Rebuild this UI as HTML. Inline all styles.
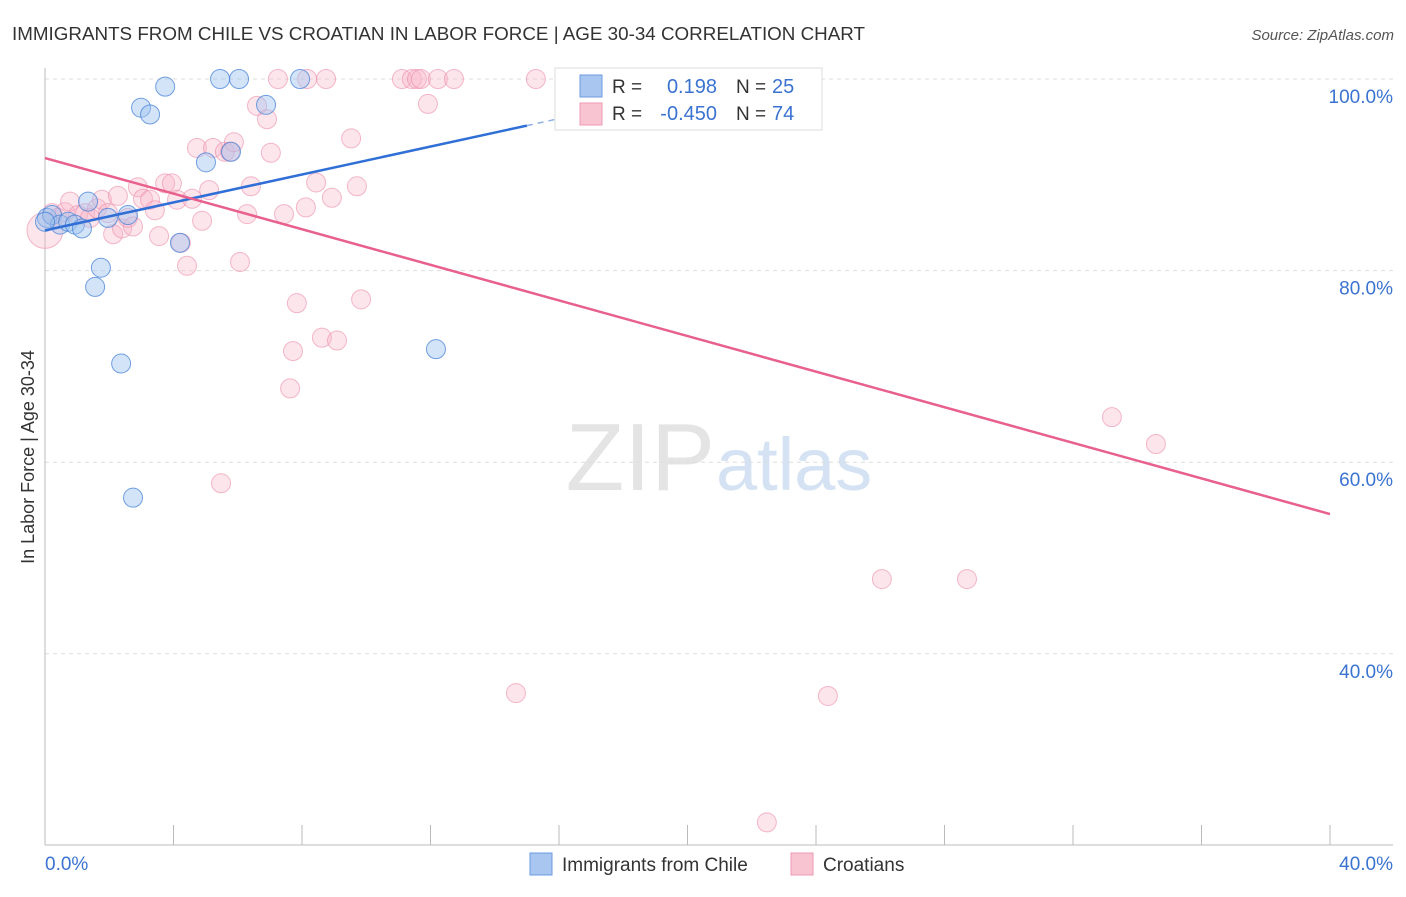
<!DOCTYPE html>
<html><head><meta charset="utf-8"><style>
body{margin:0;background:#fff;font-family:"Liberation Sans",sans-serif}
svg text{font-family:"Liberation Sans",sans-serif}
</style></head><body>
<svg id="chart" width="1406" height="892">
<text x="12" y="40" font-size="18" fill="#333" textLength="853" lengthAdjust="spacingAndGlyphs">IMMIGRANTS FROM CHILE VS CROATIAN IN LABOR FORCE | AGE 30-34 CORRELATION CHART</text>
<text x="1394" y="40" font-size="15" fill="#555" font-style="italic" text-anchor="end">Source: ZipAtlas.com</text>
<text x="715" y="490" font-size="96" fill="#e4e4e4" text-anchor="end" font-family="Liberation Serif">ZIP</text>
<text x="716" y="490" font-size="74" fill="#d4e2f4">atlas</text>
<g id="grid"></g><g id="axes"></g><g id="pts"></g><g id="lines"></g>
<text transform="translate(34,457) rotate(-90)" font-size="18" fill="#333" text-anchor="middle">In Labor Force | Age 30-34</text>
<g>
<rect x="555" y="68" width="267" height="62" fill="#fff" stroke="#ddd"/>
<rect x="580" y="75" width="22" height="22" fill="#a9c6f0" stroke="#6c9ae0"/>
<rect x="580" y="103" width="22" height="22" fill="#f9c4d2" stroke="#ef9ab5"/>
<text x="612" y="93" font-size="19" fill="#333">R =</text><text x="717" y="93" font-size="20" fill="#3b73d1" text-anchor="end">0.198</text>
<text x="736" y="93" font-size="19" fill="#333">N =</text><text x="772" y="93" font-size="20" fill="#3b73d1">25</text>
<text x="612" y="120" font-size="19" fill="#333">R =</text><text x="717" y="120" font-size="20" fill="#3b73d1" text-anchor="end">-0.450</text>
<text x="736" y="120" font-size="19" fill="#333">N =</text><text x="772" y="120" font-size="20" fill="#3b73d1">74</text>
</g>
<g>
<rect x="530" y="853" width="22" height="22" fill="#a9c6f0" stroke="#6c9ae0"/>
<text x="562" y="871" font-size="19" fill="#333">Immigrants from Chile</text>
<rect x="791" y="853" width="22" height="22" fill="#f9c4d2" stroke="#ef9ab5"/>
<text x="823" y="871" font-size="19" fill="#333">Croatians</text>
</g>
</svg>
<script>
const yTicks=[100,80,60,40];
const yTickLabels=["100.0%","80.0%","60.0%","40.0%"];
const xTickLabels=["0.0%","40.0%"];
const chileX=[0.06,0.22,0.47,0.72,0.93,1.15,1.34,1.96,2.58,1.74,1.56,2.37,2.74,2.99,3.27,3.74,4.20,5.01,5.45,6.04,5.79,6.88,7.94,12.17,0];
const chileY=[85.5,85.8,84.8,85.1,84.8,84.4,87.2,85.5,85.8,80.3,78.3,70.3,56.3,97.0,96.3,99.2,82.9,91.3,100,100,92.4,97.3,100,71.8,85.1];
const croX=[0.22,0.40,0.62,0.78,1.03,1.25,1.40,1.62,1.77,1.96,2.12,2.27,2.40,2.58,2.74,2.89,3.05,3.27,3.42,3.55,3.74,3.95,4.23,4.11,4.42,4.58,4.73,4.89,5.11,5.23,5.60,5.76,5.88,6.07,6.29,6.41,6.60,6.91,7.03,7.25,7.44,7.84,7.72,7.63,8.12,8.16,8.44,8.62,8.75,8.93,9.09,9.53,9.71,9.84,5.48,11.11,11.42,11.58,11.70,11.92,12.23,12.73,15.28,23.28,33.21,34.58,26.05,28.70,14.66,24.37,22.47,0];
const croY=[86.0,85.5,86.1,87.2,85.8,86.0,85.5,86.5,87.4,86.0,83.8,87.8,84.4,85.5,84.6,88.7,87.5,87.4,86.3,83.6,89.1,89.1,82.9,87.4,80.5,87.5,92.8,85.2,88.4,92.8,92.4,92.4,93.4,80.9,85.9,88.8,97.2,95.8,92.3,100,85.9,76.6,71.6,67.7,86.6,100,89.2,73.0,100,87.6,72.7,93.8,88.8,77.0,57.8,100,100,100,100,97.4,100,100,100,100,64.7,61.9,47.8,47.8,35.9,35.6,22.4,84.2];
const chileTrend=[84.2,0.729];
const croTrend=[91.75,-0.929];
const NS='http://www.w3.org/2000/svg';
const X=v=>45+v*32.125, Y=v=>79+(100-v)*9.58;
function mk(parent,tag,attrs){const e=document.createElementNS(NS,tag);for(const k in attrs)e.setAttribute(k,attrs[k]);document.getElementById(parent).appendChild(e);return e;}
yTicks.forEach((t,i)=>{
 let l=mk('grid','line',{x1:45,x2:1393,y1:Y(t),y2:Y(t),stroke:'#ddd','stroke-dasharray':'4,4'});
 
 
 let tx=mk('axes','text',{x:1393,y:Y(t)+24,'font-size':19,fill:'#3b73d1','text-anchor':'end'});tx.textContent=yTickLabels[i];
 
 
});
let ax=mk('axes','line',{x1:45,x2:45,y1:68,y2:845,stroke:'#bbb'});


let bx=mk('axes','line',{x1:45,x2:1393,y1:845,y2:845,stroke:'#bbb'});


for(let k=1;k<=10;k++){let t=mk('axes','line',{x1:X(k*4),x2:X(k*4),y1:825,y2:845,stroke:'#bbb'});
 
 }
[[0,'start',45],[1,'end',1393]].forEach(([i,a,x])=>{let t=mk('axes','text',{x:x,y:870,'font-size':19,fill:'#3b73d1','text-anchor':a});t.textContent=xTickLabels[i];
 
 });
croX.forEach((v,i)=>{let c=mk('pts','circle',{cx:X(v),cy:Y(croY[i]),r:i===croX.length-1?18:9.5,fill:'rgba(248,180,200,0.35)',stroke:'rgba(235,140,170,0.6)'});
 
 });
chileX.forEach((v,i)=>{let c=mk('pts','circle',{cx:X(v),cy:Y(chileY[i]),r:9.5,fill:'rgba(160,196,240,0.45)',stroke:'rgba(70,130,215,0.75)'});
 
 });
let bl=mk('lines','line',{x1:X(0),y1:Y(chileTrend[0]),x2:X(15),y2:Y(chileTrend[0]+15*chileTrend[1]),stroke:'#2f6fd6','stroke-width':2.5});


let bd=mk('lines','line',{x1:X(15),y1:Y(chileTrend[0]+15*chileTrend[1]),x2:X(23.3),y2:Y(chileTrend[0]+23.3*chileTrend[1]),stroke:'#8fb2e8','stroke-width':1.5,'stroke-dasharray':'6,5'});


let pl=mk('lines','line',{x1:X(0),y1:Y(croTrend[0]),x2:X(40),y2:Y(croTrend[0]+40*croTrend[1]),stroke:'#e8608e','stroke-width':2.5});


</script>
</body></html>
